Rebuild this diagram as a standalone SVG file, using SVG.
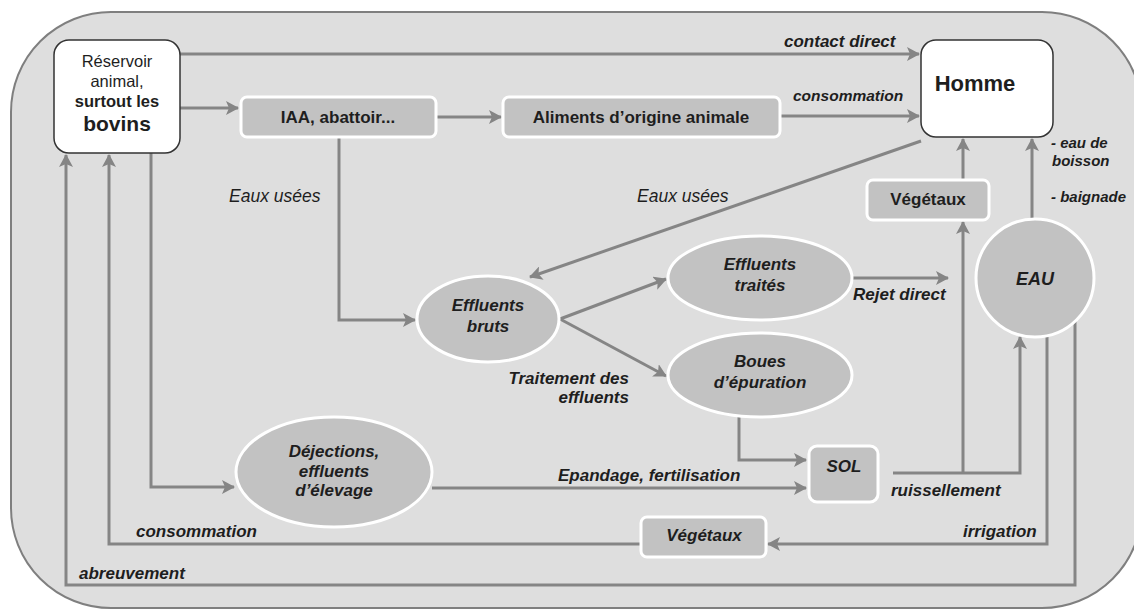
<svg xmlns="http://www.w3.org/2000/svg" width="1134" height="610" viewBox="0 0 1134 610">
<defs>
<marker id="ah" markerUnits="userSpaceOnUse" markerWidth="14" markerHeight="14" refX="12" refY="7" orient="auto">
<path d="M0,0 L13,7 L0,14 L3,7 z" fill="#858585"/>
</marker>
<style>
.ln{fill:none;stroke:#858585;stroke-width:3}
.ar{marker-end:url(#ah)}
.box{fill:#c2c2c2;stroke:#ffffff;stroke-width:3}
.wbox{fill:#ffffff;stroke:#333333;stroke-width:1.5}
.t{font-family:"Liberation Sans",Arial,sans-serif;fill:#1e1e1e;text-anchor:middle}
.b{font-weight:bold}
.i{font-style:italic}
.lb{font-family:"Liberation Sans",Arial,sans-serif;fill:#1e1e1e;font-style:italic;font-weight:bold;font-size:17px}
.sm{font-size:15px}
.md{font-size:15.5px}
</style>
</defs>
<rect x="11" y="12" width="1131" height="596" rx="100" ry="100" fill="#dedede" stroke="#7f7f7f" stroke-width="2"/>

<g id="connectors">
<path class="ln ar" d="M180,54 H919"/>
<path class="ln ar" d="M180,108 H238"/>
<path class="ln ar" d="M437,117 H501"/>
<path class="ln ar" d="M781,116 H919"/>
<path class="ln ar" d="M921,141 L530,277"/>
<path class="ln ar" d="M339,137 V320 H415"/>
<path class="ln ar" d="M560,319 L666,279"/>
<path class="ln ar" d="M560,319 L666,376"/>
<path class="ln ar" d="M852,278 H948"/>
<path class="ln ar" d="M739,417 V460 H806"/>
<path class="ln ar" d="M432,488 H806"/>
<path class="ln ar" d="M151,153 V487 H234"/>
<path class="ln ar" d="M893,473 H1020 V337"/>
<path class="ln ar" d="M963,473 V222"/>
<path class="ln ar" d="M963,180 V139"/>
<path class="ln ar" d="M1032,221 V139"/>
<path class="ln ar" d="M1047,334 V544 H768"/>
<path class="ln ar" d="M641,544 H109 V155"/>
<path class="ln ar" d="M1075,320 V585 H66 V155"/>
</g>

<g id="reservoir">
<rect class="wbox" x="54" y="40" width="126" height="113" rx="15"/>
<text class="t" x="117" y="67" font-size="16.5">Réservoir</text>
<text class="t" x="117" y="87" font-size="16.5">animal,</text>
<text class="t b" x="117" y="107" font-size="16.5">surtout les</text>
<text class="t b" x="117" y="131" font-size="21">bovins</text>
</g>

<g id="iaa">
<rect class="box" x="241" y="97" width="195" height="40" rx="6"/>
<text class="t b" x="338" y="123" font-size="17">IAA, abattoir...</text>
</g>

<g id="aliments">
<rect class="box" x="503" y="97" width="277" height="40" rx="6"/>
<text class="t b" x="641" y="123" font-size="17">Aliments d’origine animale</text>
</g>

<g id="homme">
<rect class="wbox" x="921" y="40" width="132" height="97" rx="15"/>
<text class="t b" x="975" y="91" font-size="22">Homme</text>
</g>

<g id="vegetaux-haut">
<rect class="box" x="867" y="180" width="122" height="40" rx="6"/>
<text class="t b" x="928" y="205" font-size="17">Végétaux</text>
</g>

<g id="eau">
<circle cx="1035" cy="278" r="59" fill="#c2c2c2" stroke="#ffffff" stroke-width="3"/>
<text class="t b i" x="1035" y="285" font-size="18">EAU</text>
</g>

<g id="effluents-bruts">
<ellipse cx="488" cy="319" rx="71" ry="43" fill="#c2c2c2" stroke="#ffffff" stroke-width="3"/>
<text class="t b i" x="488" y="311" font-size="17">Effluents</text>
<text class="t b i" x="488" y="332" font-size="17">bruts</text>
</g>

<g id="effluents-traites">
<ellipse cx="760" cy="278" rx="92" ry="42" fill="#c2c2c2" stroke="#ffffff" stroke-width="3"/>
<text class="t b i" x="760" y="270" font-size="17">Effluents</text>
<text class="t b i" x="760" y="291" font-size="17">traités</text>
</g>

<g id="boues">
<ellipse cx="760" cy="375" rx="92" ry="42" fill="#c2c2c2" stroke="#ffffff" stroke-width="3"/>
<text class="t b i" x="760" y="367" font-size="17">Boues</text>
<text class="t b i" x="760" y="388" font-size="17">d’épuration</text>
</g>

<g id="dejections">
<ellipse cx="334" cy="472" rx="98" ry="55" fill="#c2c2c2" stroke="#ffffff" stroke-width="3"/>
<text class="t b i" x="334" y="457" font-size="17">Déjections,</text>
<text class="t b i" x="334" y="477" font-size="17">effluents</text>
<text class="t b i" x="334" y="496" font-size="17">d’élevage</text>
</g>

<g id="sol">
<rect class="box" x="809" y="446" width="69" height="56" rx="8"/>
<text class="t b i" x="844" y="472" font-size="17">SOL</text>
</g>

<g id="vegetaux-bas">
<rect class="box" x="641" y="517" width="125" height="40" rx="6"/>
<text class="t b i" x="704" y="541" font-size="17">Végétaux</text>
</g>

<g id="labels">
<text class="lb" x="784" y="47">contact direct</text>
<text class="lb md" x="793" y="101">consommation</text>
<text font-family="Liberation Sans, Arial, sans-serif" font-style="italic" font-size="17.5" fill="#1e1e1e" x="229" y="202">Eaux usées</text>
<text font-family="Liberation Sans, Arial, sans-serif" font-style="italic" font-size="17.5" fill="#1e1e1e" x="637" y="202">Eaux usées</text>
<text class="lb sm" x="1051" y="148">- eau de</text>
<text class="lb sm" x="1052" y="166">boisson</text>
<text class="lb sm" x="1051" y="202">- baignade</text>
<text class="lb" x="853" y="300">Rejet direct</text>
<text class="lb" x="629" y="384" text-anchor="end">Traitement des</text>
<text class="lb" x="629" y="403" text-anchor="end">effluents</text>
<text class="lb" x="558" y="481">Epandage, fertilisation</text>
<text class="lb" x="891" y="496">ruissellement</text>
<text class="lb" x="963" y="537">irrigation</text>
<text class="lb" x="136" y="537">consommation</text>
<text class="lb" x="79" y="579">abreuvement</text>
</g>
</svg>
